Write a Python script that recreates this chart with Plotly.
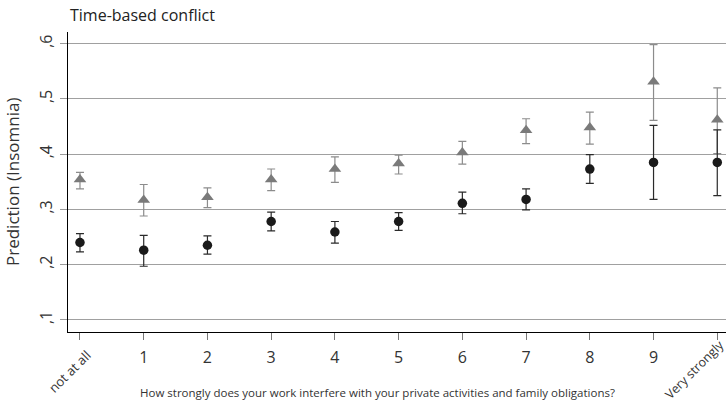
import plotly.graph_objects as go

# x categories (0 = "not at all", 10 = "Very strongly")
x_vals = [0, 1, 2, 3, 4, 5, 6, 7, 8, 9, 10]
x_ticktext = ["", "1", "2", "3", "4", "5", "6", "7", "8", "9", ""]

# Series A (gray triangles)
tri_pred = [0.354, 0.317, 0.322, 0.354, 0.373, 0.383, 0.403, 0.443, 0.448, 0.531, 0.462]
tri_hi   = [0.367, 0.345, 0.339, 0.373, 0.395, 0.398, 0.423, 0.464, 0.476, 0.598, 0.520]
tri_lo   = [0.337, 0.288, 0.303, 0.334, 0.349, 0.364, 0.382, 0.419, 0.418, 0.461, 0.401]

# Series B (black circles)
cir_pred = [0.240, 0.226, 0.235, 0.278, 0.259, 0.278, 0.311, 0.318, 0.373, 0.385, 0.385]
cir_hi   = [0.256, 0.253, 0.252, 0.295, 0.278, 0.294, 0.331, 0.337, 0.399, 0.452, 0.444]
cir_lo   = [0.223, 0.197, 0.219, 0.261, 0.239, 0.262, 0.292, 0.299, 0.347, 0.318, 0.325]

y_tickvals = [0.1, 0.2, 0.3, 0.4, 0.5, 0.6]
y_ticktext = [",1", ",2", ",3", ",4", ",5", ",6"]

FONT = "Open Sans"

fig = go.Figure()

fig.add_trace(go.Scatter(
    x=x_vals, y=tri_pred, mode="markers",
    marker=dict(symbol="triangle-up", size=11, color="#7a7a7a"),
    error_y=dict(type="data", symmetric=False,
                 array=[h - p for h, p in zip(tri_hi, tri_pred)],
                 arrayminus=[p - l for p, l in zip(tri_pred, tri_lo)],
                 color="#8c8c8c", thickness=1.2, width=4),
    showlegend=False, cliponaxis=False,
))

fig.add_trace(go.Scatter(
    x=x_vals, y=cir_pred, mode="markers",
    marker=dict(symbol="circle", size=9.5, color="#1a1a1a"),
    error_y=dict(type="data", symmetric=False,
                 array=[h - p for h, p in zip(cir_hi, cir_pred)],
                 arrayminus=[p - l for p, l in zip(cir_pred, cir_lo)],
                 color="#2a2a2a", thickness=1.2, width=4),
    showlegend=False, cliponaxis=False,
))

fig.update_layout(
    width=726, height=403,
    margin=dict(l=68, r=0, t=32, b=71, autoexpand=False),
    paper_bgcolor="white", plot_bgcolor="white",
    font=dict(family=FONT, color="#222222"),
    xaxis=dict(
        range=[-0.188, 10.137],
        tickmode="array", tickvals=x_vals, ticktext=x_ticktext,
        ticks="outside", ticklen=7, tickwidth=1.2, tickcolor="#777777",
        ticklabelstandoff=4,
        tickfont=dict(size=16, family=FONT, color="#333333"),
        showgrid=False, zeroline=False,
        showline=True, linecolor="black", linewidth=1.2,
        automargin=False,
    ),
    yaxis=dict(
        range=[0.078, 0.621],
        tickmode="array", tickvals=y_tickvals, ticktext=y_ticktext,
        tickangle=-90,
        ticks="outside", ticklen=7, tickwidth=1.2, tickcolor="#9a9a9a",
        ticklabelstandoff=2,
        tickfont=dict(size=16, family=FONT, color="#333333"),
        showgrid=True, gridcolor="#a0a0a0", gridwidth=1.2,
        zeroline=False,
        showline=True, linecolor="black", linewidth=1.2,
        automargin=False,
    ),
    annotations=[
        dict(text="Time-based conflict", xref="paper", yref="paper",
             x=0, y=1, xanchor="left", yanchor="bottom", yshift=4,
             showarrow=False, font=dict(size=16, family=FONT, color="#222222")),
        dict(text="Prediction (Insomnia)", xref="paper", yref="paper",
             x=0, y=0.5, xshift=-56, xanchor="center", yanchor="middle",
             textangle=-90, showarrow=False,
             font=dict(size=17, family=FONT, color="#333333")),
        dict(text="How strongly does your work interfere with your private activities and family obligations?",
             xref="paper", yref="paper", x=0.4704, y=-0.2, xanchor="center", yanchor="middle",
             showarrow=False, font=dict(size=11.5, family=FONT, color="#333333")),
        dict(text="not at all", xref="x", yref="paper", x=0, y=-0.13, xshift=-10,
             xanchor="center", yanchor="middle", textangle=-45,
             showarrow=False, font=dict(size=13, family=FONT, color="#333333")),
        dict(text="Very strongly", xref="x", yref="paper", x=10, y=-0.125, xshift=-23,
             xanchor="center", yanchor="middle", textangle=-45,
             showarrow=False, font=dict(size=12.5, family=FONT, color="#333333")),
    ],
)

fig.write_html(
    "out.html",
    config={"displayModeBar": False},
    post_script="document.body.style.margin='0';document.body.style.padding='0';document.body.style.overflow='hidden';",
)
